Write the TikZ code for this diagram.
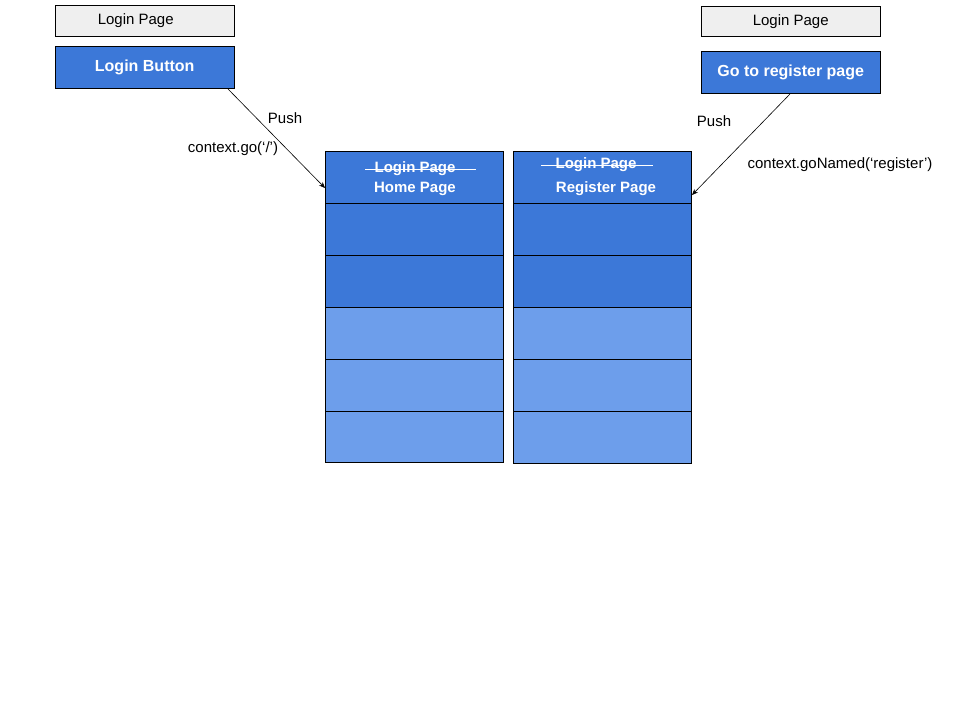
\documentclass[tikz,border=0pt]{standalone}
\usepackage{fontspec}
\setmainfont{Liberation Sans}
\usetikzlibrary{arrows.meta}
\definecolor{dk}{HTML}{3C78D8}
\definecolor{lt}{HTML}{6D9EEB}
\definecolor{gr}{HTML}{EFEFEF}
\tikzset{
 lbl/.style={font=\fontsize{15}{17}\selectfont, inner sep=0pt},
 graybox/.style={draw, fill=gr, minimum width=179pt, anchor=north west, inner sep=0pt, font=\fontsize{15}{17}\selectfont},
 bluebox/.style={draw, fill=dk, minimum width=179pt, anchor=north west, inner sep=0pt, text=white, font=\bfseries\fontsize{16}{18}\selectfont},
 cell/.style={draw, minimum width=178pt, minimum height=52pt, anchor=north west, inner sep=0pt},
 wt/.style={text=white, font=\bfseries\fontsize{15}{17}\selectfont, inner sep=0pt},
 arr/.style={-{Stealth[length=6pt,width=5pt]}, line width=0.6pt}
}
\begin{document}
\begin{tikzpicture}[x=1pt,y=-1pt]
\useasboundingbox (0,0) rectangle (960,720);
\node[graybox, minimum height=31pt] (lp1) at (55,5) {\hspace*{-6pt}Login Page\hspace*{12pt}};
\node[bluebox, minimum height=42pt] (lb) at (55,46) {Login Button};
\node[graybox, minimum height=30pt] (lp2) at (701,6) {Login Page};
\node[bluebox, minimum height=42pt] (gr) at (701,51) {Go to register page};
\foreach \i/\c in {0/dk,1/dk,2/dk,3/lt,4/lt,5/lt}{
 \node[cell, fill=\c, minimum height={\i==5?51pt:52pt}] (L\i) at (325,151+52*\i) {};
 \node[cell, fill=\c] (R\i) at (513,151+52*\i) {};
}
\node[wt] (a1) at (415,169) {Login Page};
\draw[white, line width=0.8pt] (365,169) -- (476,169);
\node[wt] (a2) at (415,189) {Home Page};
\node[wt] (b1) at (596,165) {Login Page};
\draw[white, line width=0.8pt] (541,165) -- (653,165);
\node[wt] (b2) at (606,189) {Register Page};
\coordinate (s1) at (228,89);
\coordinate (e1) at (325,188);
\coordinate (s2) at (790,94);
\coordinate (e2) at (692,195);
\draw[arr] (s1) -- (e1);
\draw[arr] (s2) -- (e2);
\node[lbl] (p1) at (285,118) {Push};
\node[lbl] (c1) at (233,149) {context.go(‘/’)};
\node[lbl] (p2) at (714,121) {Push};
\node[lbl] (c2) at (840,165) {context.goNamed(‘register’)};
\end{tikzpicture}
\end{document}
